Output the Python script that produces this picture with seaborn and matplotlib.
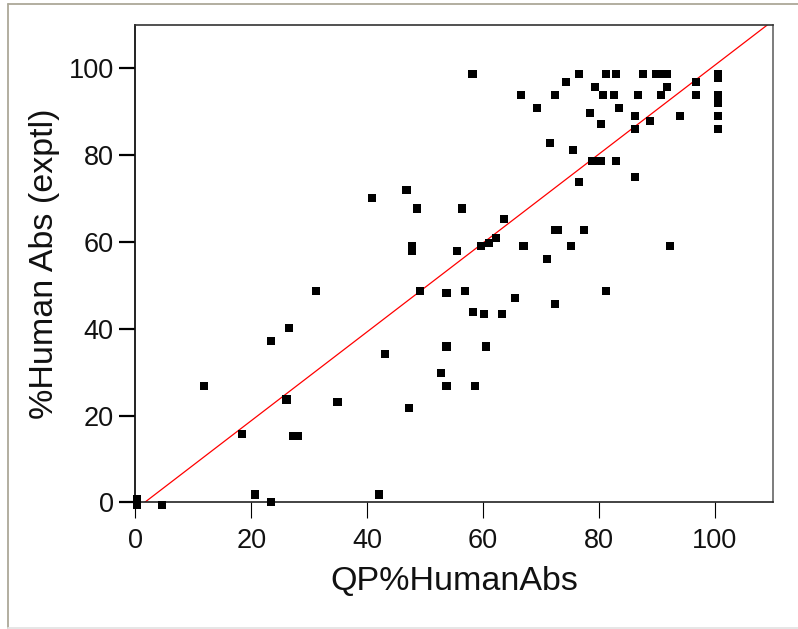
import matplotlib
matplotlib.use("Agg")
import matplotlib.pyplot as plt
from matplotlib.lines import Line2D
import seaborn as sns
import numpy as np
import pandas as pd

# QP predicted % human absorption (x) vs experimental % human absorption (y)
qp_abs = [0.3, 0.3, 4.6, 11.9, 18.4, 20.7, 23.4, 23.4, 26.6, 26.1,
          27.2, 28.0, 34.9, 42.1, 43.1, 40.8, 31.2, 58.2, 76.6, 81.2,
          83.0, 87.6, 89.9, 90.9, 91.8, 100.5, 100.5, 74.3, 79.4, 91.8,
          96.8, 66.5, 72.4, 80.7, 82.6, 86.7, 90.8, 96.8, 100.5, 100.5,
          69.3, 83.5, 78.4, 86.3, 94.0, 100.5, 80.3, 88.9, 86.3, 100.5,
          71.5, 75.6, 78.9, 80.3, 83.0, 76.6, 86.3, 46.8, 48.6, 56.4,
          63.7, 62.3, 61.0, 59.6, 47.7, 47.7, 55.5, 67.0, 72.4, 72.9,
          77.5, 75.2, 92.2, 71.1, 49.1, 53.7, 56.9, 81.2, 65.6, 72.4,
          58.3, 60.1, 63.3, 53.7, 60.5, 52.7, 53.7, 58.7, 47.3]
expt_abs = [0.7, -0.6, -0.7, 26.7, 15.8, 1.8, 37.2, 0.0, 40.2, 23.7,
            15.2, 15.2, 23.1, 1.8, 34.1, 70.1, 48.8, 98.8, 98.8, 98.8,
            98.8, 98.8, 98.8, 98.8, 98.8, 98.8, 97.8, 96.9, 95.7, 95.7,
            96.9, 93.9, 93.9, 93.9, 93.9, 93.9, 93.9, 93.9, 93.9, 92.0,
            90.9, 90.9, 89.7, 89.0, 89.0, 89.0, 87.2, 87.8, 86.0, 86.0,
            82.9, 81.1, 78.6, 78.6, 78.6, 73.8, 75.0, 72.0, 67.7, 67.7,
            65.2, 61.0, 59.8, 59.1, 59.1, 58.0, 57.9, 59.1, 62.8, 62.8,
            62.8, 59.1, 59.1, 56.1, 48.8, 48.2, 48.8, 48.8, 47.0, 45.7,
            43.9, 43.3, 43.3, 35.9, 35.9, 29.8, 26.7, 26.7, 21.8]

fit_slope = 1.024
fit_intercept = -1.68

x_ticks = [0, 20, 40, 60, 80, 100]
y_ticks = [0, 20, 40, 60, 80, 100]
x_label = "QP%HumanAbs"
y_label = "%Human Abs (exptl)"

df = pd.DataFrame({"qp": qp_abs, "expt": expt_abs})

sns.set_style("white")
plt.rcParams['font.family'] = ['Liberation Sans', 'DejaVu Sans']

fig = plt.figure(figsize=(7.98, 6.29), dpi=100)
ax = fig.add_axes([135.3 / 798, 1 - 502.3 / 629, (772.7 - 135.3) / 798, (502.3 - 25) / 629])

ax.axline((0, fit_intercept), slope=fit_slope, color='#ff0000', lw=0.9, zorder=2)
sns.scatterplot(data=df, x="qp", y="expt", marker='s', s=34, color='black',
                edgecolor='none', linewidth=0, clip_on=False, zorder=3, ax=ax)

ax.set_xlim(0, 110)
ax.set_ylim(0, 110)
ax.set_xticks(x_ticks)
ax.set_yticks(y_ticks)
ax.tick_params(axis='x', bottom=True, direction='out', length=11.5, width=0.8,
               color='black', labelsize=19.5, pad=7, labelcolor='#111111')
ax.tick_params(axis='y', left=True, direction='out', length=11.5, width=1.6,
               color='black', labelsize=19.5, pad=4, labelcolor='#111111')
ax.set_xlabel(x_label, fontsize=24.5, labelpad=9, color='#111111')
ax.set_ylabel(y_label, fontsize=24.5, labelpad=6, color='#111111')

for side, col, w in [('left', '#111111', 1.3), ('bottom', '#222222', 1.2),
                     ('top', '#333333', 1.2), ('right', '#666666', 1.2)]:
    ax.spines[side].set_visible(True)
    ax.spines[side].set_color(col)
    ax.spines[side].set_linewidth(w)

# outer panel frame
fig.add_artist(Line2D([8.3 / 798, 1], [1 - 4.3 / 629] * 2, transform=fig.transFigure,
                      color='#aca899', lw=1.3))
fig.add_artist(Line2D([8.3 / 798] * 2, [1 - 4.3 / 629, 1 - 628.3 / 629], transform=fig.transFigure,
                      color='#aca899', lw=1.3))
fig.add_artist(Line2D([8.3 / 798, 1], [1 - 628.3 / 629] * 2, transform=fig.transFigure,
                      color='#e4e4e4', lw=1.3))

fig.savefig("out.png", dpi=100)
